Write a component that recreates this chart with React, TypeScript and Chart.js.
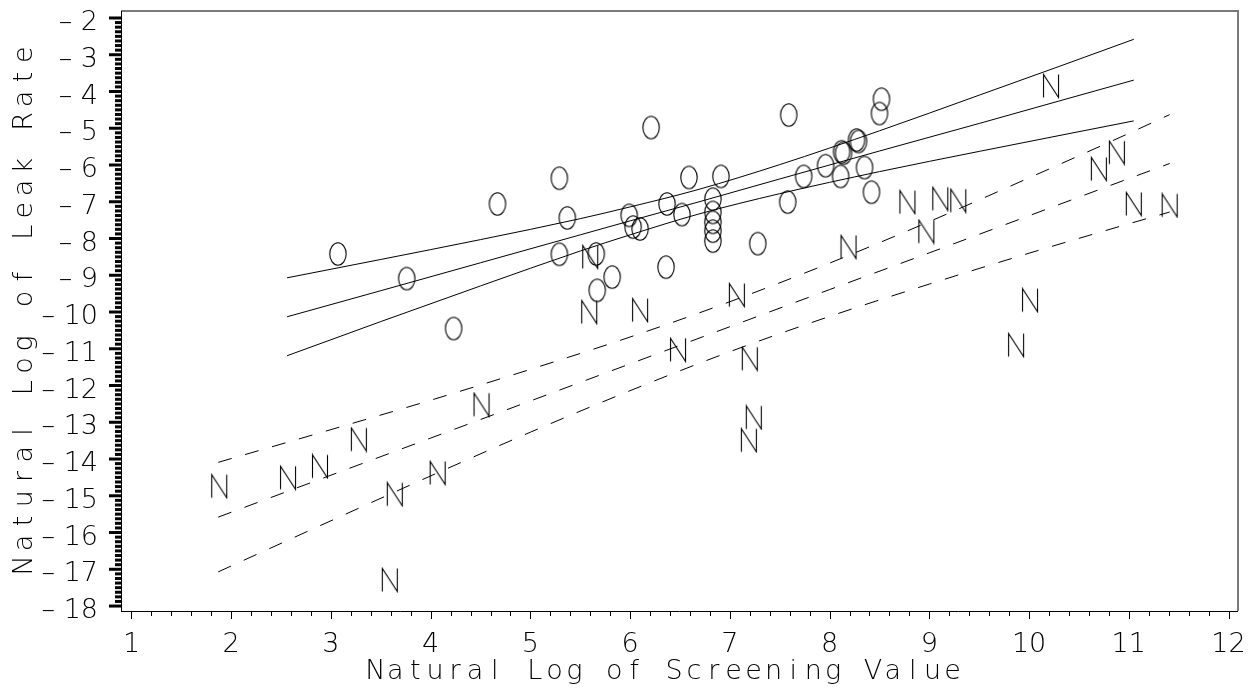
import React, { useEffect, useRef } from 'react';
import { Chart, registerables } from 'chart.js';

Chart.register(...registerables);

// "O" observations (x = ln screening value, y = ln leak rate)
const oX = [3.07, 3.76, 4.23, 4.67, 5.29, 5.37, 5.29, 5.66, 5.82, 5.67, 6.21, 5.99, 6.03, 6.10, 6.37, 6.36, 6.52, 6.59, 6.91, 6.83, 6.83, 6.83, 6.83, 6.83, 7.28, 7.59, 7.58, 7.74, 7.96, 8.12, 8.14, 8.11, 8.27, 8.29, 8.35, 8.42, 8.52, 8.50];
const oY = [-8.42, -9.09, -10.45, -7.06, -6.36, -7.44, -8.43, -8.42, -9.05, -9.41, -4.98, -7.37, -7.69, -7.74, -7.06, -8.78, -7.35, -6.34, -6.31, -6.93, -7.29, -7.56, -7.80, -8.07, -8.14, -4.64, -7.01, -6.31, -6.02, -5.64, -5.68, -6.31, -5.32, -5.36, -6.07, -6.74, -4.21, -4.60];

// "N" observations
const nX = [1.88, 2.57, 2.89, 3.28, 3.64, 3.59, 4.07, 4.51, 5.60, 5.59, 6.10, 6.48, 7.07, 7.20, 7.24, 7.19, 8.19, 8.78, 8.97, 9.11, 9.29, 9.87, 10.01, 10.22, 10.70, 10.88, 11.05, 11.41];
const nY = [-14.74, -14.51, -14.20, -13.47, -14.96, -17.29, -14.38, -12.52, -8.50, -10.00, -9.95, -11.03, -9.54, -11.27, -12.87, -13.49, -8.23, -7.01, -7.81, -6.92, -6.97, -10.90, -9.68, -3.85, -6.11, -5.66, -7.06, -7.10];

// Solid lines: fit and confidence limits for the O group
const oLineX = [2.56, 3.5, 4.5, 5.5, 6.0, 6.68, 7.5, 8.5, 9.5, 10.3, 11.05];
const oFit = [-10.13, -9.42, -8.66, -7.90, -7.52, -7.01, -6.38, -5.62, -4.87, -4.26, -3.69];
const oUpper = [-9.07, -8.57, -8.03, -7.46, -7.14, -6.67, -5.99, -5.07, -4.10, -3.32, -2.58];
const oLower = [-11.19, -10.26, -9.29, -8.34, -7.90, -7.34, -6.78, -6.18, -5.63, -5.20, -4.80];

// Dashed lines: fit and confidence limits for the N group
const nLineX = [1.87, 3, 4, 5, 6, 7, 8, 9, 10, 11, 11.41];
const nUpper = [-14.09, -13.20, -12.40, -11.56, -10.68, -9.72, -8.67, -7.54, -6.35, -5.14, -4.63];
const nFit = [-15.58, -14.44, -13.43, -12.42, -11.41, -10.40, -9.39, -8.39, -7.38, -6.37, -5.96];
const nLower = [-17.07, -15.68, -14.46, -13.27, -12.14, -11.08, -10.12, -9.24, -8.40, -7.60, -7.28];

const xTickValues = [1, 2, 3, 4, 5, 6, 7, 8, 9, 10, 11, 12];
const yTickValues = [-18, -17, -16, -15, -14, -13, -12, -11, -10, -9, -8, -7, -6, -5, -4, -3, -2];
const xTitle = 'Natural Log of Screening Value';
const yTitle = 'Natural Log of Leak Rate';

const FONT = 'DejaVu Sans';

function makeO(): HTMLCanvasElement {
  const c = document.createElement('canvas');
  c.width = 20; c.height = 26;
  const g = c.getContext('2d')!;
  g.strokeStyle = '#000';
  g.lineWidth = 1.1;
  g.beginPath();
  g.ellipse(10, 13, 8.2, 11.2, 0, 0, Math.PI * 2);
  g.stroke();
  return c;
}

function makeN(): HTMLCanvasElement {
  const c = document.createElement('canvas');
  c.width = 20; c.height = 26;
  const g = c.getContext('2d')!;
  g.strokeStyle = '#000';
  g.lineWidth = 1.1;
  g.beginPath();
  g.moveTo(2.5, 24.5);
  g.lineTo(2.5, 1.5);
  g.lineTo(17.5, 24.5);
  g.lineTo(17.5, 1.5);
  g.stroke();
  return c;
}

function pts(xs: number[], ys: number[]) {
  return xs.map((x, i) => ({ x, y: ys[i] }));
}

export default function App() {
  const ref = useRef<HTMLCanvasElement>(null);

  useEffect(() => {
    document.body.style.margin = '0';
    const canvas = ref.current!;
    const O = makeO();
    const N = makeN();

    const lineDs = (xs: number[], ys: number[], dashed: boolean) => ({
      type: 'line' as const,
      data: pts(xs, ys),
      borderColor: '#000',
      borderWidth: 1,
      borderDash: dashed ? [14, 14] : [],
      pointRadius: 0,
      fill: false,
      cubicInterpolationMode: 'monotone' as const,
    });

    const drawSpaced = (ctx: CanvasRenderingContext2D, text: string, cx: number, y: number, pitch: number) => {
      const start = cx - ((text.length - 1) * pitch) / 2;
      ctx.textAlign = 'center';
      for (let i = 0; i < text.length; i++) {
        if (text[i] !== ' ') ctx.fillText(text[i], start + i * pitch, y);
      }
    };

    const axesPlugin = {
      id: 'sasAxes',
      afterDraw(chart: any) {
        const ctx: CanvasRenderingContext2D = chart.ctx;
        const { left, right, top, bottom } = chart.chartArea;
        const xs = chart.scales.x;
        const ys = chart.scales.y;
        const seg = (x1: number, y1: number, x2: number, y2: number) => {
          ctx.beginPath(); ctx.moveTo(x1, y1); ctx.lineTo(x2, y2); ctx.stroke();
        };
        ctx.save();
        // frame (top and right)
        ctx.strokeStyle = '#7a7a7a';
        ctx.lineWidth = 2;
        ctx.beginPath();
        ctx.moveTo(left, top);
        ctx.lineTo(right, top);
        ctx.lineTo(right, bottom);
        ctx.stroke();
        // x axis
        ctx.strokeStyle = '#000';
        ctx.lineWidth = 1;
        seg(left, bottom + 0.5, right, bottom + 0.5);
        for (let i = 0; i <= 55; i++) {
          const v = 1 + i * 0.2;
          const px = Math.round(xs.getPixelForValue(v)) + 0.5;
          seg(px, bottom, px, bottom + (i % 5 === 0 ? 8 : 5));
        }
        // y axis
        seg(left + 0.5, top, left + 0.5, bottom + 1);
        ctx.lineWidth = 3;
        for (let i = 0; i <= 128; i++) {
          const v = -18 + i * 0.125;
          const py = ys.getPixelForValue(v);
          seg(left - (i % 8 === 0 ? 12 : 6), py, left + 1, py);
        }
        // titles
        ctx.fillStyle = '#000';
        ctx.font = `200 27px "${FONT}"`;
        ctx.textBaseline = 'alphabetic';
        drawSpaced(ctx, xTitle, 664, 679, 19.9);
        ctx.translate(22, 310);
        ctx.rotate(-Math.PI / 2);
        drawSpaced(ctx, yTitle, 0, 9.8, 22.2);
        ctx.restore();
      },
    };

    const chart = new Chart(canvas, {
      type: 'scatter',
      data: {
        datasets: [
          lineDs(oLineX, oUpper, false),
          lineDs(oLineX, oFit, false),
          lineDs(oLineX, oLower, false),
          lineDs(nLineX, nUpper, true),
          lineDs(nLineX, nFit, true),
          lineDs(nLineX, nLower, true),
          {
            type: 'scatter',
            data: pts(oX, oY),
            pointStyle: O,
            pointRadius: 10,
            showLine: false,
          } as any,
          {
            type: 'scatter',
            data: pts(nX, nY),
            pointStyle: N,
            pointRadius: 10,
            showLine: false,
          } as any,
        ],
      },
      options: {
        responsive: false,
        devicePixelRatio: 1,
        animation: false,
        events: [],
        layout: { padding: { left: 0, top: 8, right: 20, bottom: 0 } },
        plugins: {
          legend: { display: false },
          tooltip: { enabled: false },
          title: { display: false },
        },
        scales: {
          x: {
            type: 'linear',
            min: 0.895,
            max: 12.095,
            afterBuildTicks: (s: any) => { s.ticks = xTickValues.map((v) => ({ value: v })); },
            afterFit: (s: any) => {
              s.height = 83;
              s.paddingLeft = 0; s.paddingRight = 0; s.paddingTop = 0; s.paddingBottom = 0;
            },
            ticks: {
              callback: (v: any) => String(v),
              font: { family: FONT, size: 27, weight: '200' as any },
              color: '#000',
              padding: 18,
              maxRotation: 0,
              autoSkip: false,
            },
            grid: { display: false, drawTicks: false },
            border: { display: false },
          },
          y: {
            type: 'linear',
            min: -18.135,
            max: -1.81,
            afterBuildTicks: (s: any) => { s.ticks = yTickValues.map((v) => ({ value: v })); },
            afterFit: (s: any) => {
              s.width = 121;
              s.paddingLeft = 0; s.paddingRight = 0; s.paddingTop = 0; s.paddingBottom = 0;
            },
            ticks: {
              callback: (v: any) => '\u2013 ' + String(Math.abs(Number(v))),
              font: { family: FONT, size: 27, weight: '200' as any },
              color: '#000',
              padding: 23,
              labelOffset: 5,
              autoSkip: false,
            },
            grid: { display: false, drawTicks: false },
            border: { display: false },
          },
        },
      },
      plugins: [axesPlugin],
    } as any);

    return () => chart.destroy();
  }, []);

  return (
    <div style={{ width: 1258, height: 694, background: '#fff' }}>
      <canvas ref={ref} width={1258} height={694} style={{ display: 'block' }} />
    </div>
  );
}
